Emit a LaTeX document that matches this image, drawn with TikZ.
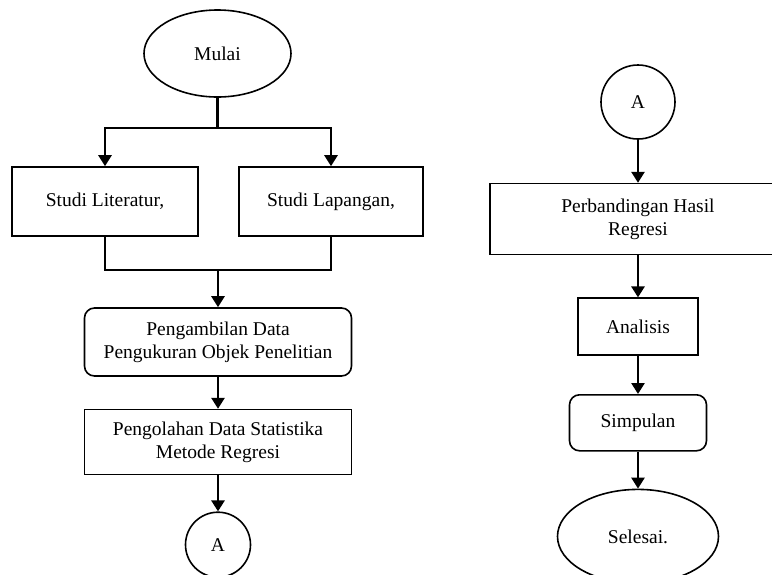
\documentclass[tikz,border=0pt]{standalone}
\usepackage{fontspec}
\setmainfont{Liberation Serif}
\usetikzlibrary{arrows.meta, positioning, shapes.geometric}

\begin{document}
\begin{tikzpicture}[
  x=1pt, y=-1pt,
  font=\fontsize{19.5}{23}\selectfont,
  box/.style={draw, line width=1.6pt, align=center, inner sep=2pt},
  roundbox/.style={box, rounded corners=10pt},
  term/.style={draw, line width=1.6pt, ellipse, inner sep=0pt},
  conn/.style={draw, line width=1.6pt, circle, inner sep=0pt},
  line/.style={line width=2.6pt},
  arr/.style={line, -{Triangle[width=13pt, length=11pt]}}
]
\useasboundingbox (0,0) rectangle (772,574);

% kolom kiri
\node[term, minimum width=147pt, minimum height=87pt] (mulai) at (217.5,53.5) {Mulai};
\node[box, minimum width=186pt, minimum height=69pt] (lit) at (105,201.5) {Studi Literatur,};
\node[box, minimum width=184pt, minimum height=69pt] (lap) at (331,201.5) {Studi Lapangan,};
\node[roundbox, minimum width=267pt, minimum height=68pt] (ambil) at (218,342) {Pengambilan Data\\Pengukuran Objek Penelitian};
\node[box, minimum width=267pt, minimum height=65pt, below=32pt of ambil] (olah) {Pengolahan Data Statistika\\Metode Regresi};
\node[conn, minimum size=65pt, below=36pt of olah] (konA) {A};

\coordinate (split) at (217.5,128);
\coordinate (join) at (218,270);

\draw[line] (mulai) -- (split);
\draw[arr] (split) -| (lit);
\draw[arr] (split) -| (lap);
\draw[line] (lit) |- (join) -| (lap);
\draw[arr] (join) -- (ambil);
\draw[arr] (ambil) -- (olah);
\draw[arr] (olah) -- (konA);

% kolom kanan
\node[conn, minimum size=74pt] (konB) at (638,102) {A};
\node[box, minimum width=296pt, minimum height=71pt, below=43pt of konB] (banding) {Perbandingan Hasil\\Regresi};
\node[box, minimum width=120pt, minimum height=57pt, below=42pt of banding] (analisis) {Analisis};
\node[roundbox, minimum width=137pt, minimum height=56pt, below=38pt of analisis] (simpulan) {Simpulan};
\node[term, minimum width=161pt, minimum height=94pt, below=37pt of simpulan] (selesai) {Selesai.};

\draw[arr] (konB) -- (banding);
\draw[arr] (banding) -- (analisis);
\draw[arr] (analisis) -- (simpulan);
\draw[arr] (simpulan) -- (selesai);
\end{tikzpicture}
\end{document}
